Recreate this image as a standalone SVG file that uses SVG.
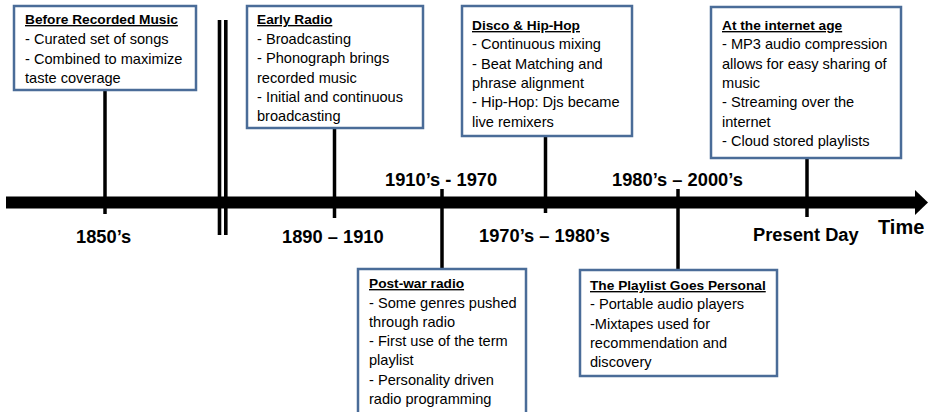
<svg xmlns="http://www.w3.org/2000/svg" width="933" height="412" viewBox="0 0 933 412">
<style>
.box{fill:#fff;stroke:#4A6C98;stroke-width:2.5}
.conn line{stroke:#000;stroke-width:3.5}
.t{font-family:"Liberation Sans",Arial,sans-serif;font-size:14.6px;fill:#000}
.h{font-weight:bold;font-size:13.7px;text-decoration:underline}
.lbl{font-family:"Liberation Sans",Arial,sans-serif;font-size:18.3px;font-weight:bold;fill:#000}
</style>
<rect width="933" height="412" fill="#fff"/>
<g id="timeline">
<rect x="6" y="196.5" width="911" height="12" fill="#000"/>
<polygon points="915,190 928,202.5 915,215" fill="#000"/>
<rect x="217.7" y="20" width="3.6" height="215" fill="#000"/>
<rect x="224" y="20" width="3.6" height="215" fill="#000"/>
</g>
<g class="conn" id="connectors">
<line x1="105" y1="90" x2="105" y2="214"/>
<line x1="334.5" y1="128" x2="334.5" y2="218"/>
<line x1="545.5" y1="136" x2="545.5" y2="213"/>
<line x1="807" y1="158" x2="807" y2="217"/>
<line x1="442" y1="189" x2="442" y2="268"/>
<line x1="678" y1="189" x2="678" y2="270"/>
</g>
<g id="before-recorded-music">
<rect class="box" x="14" y="6" width="182" height="84"/>
<text class="t" x="25" y="24"><tspan class="h">Before Recorded Music</tspan><tspan x="25" y="44">- Curated set of songs</tspan><tspan x="25" y="63.5">- Combined to maximize</tspan><tspan x="25" y="83">taste coverage</tspan></text>
</g>
<g id="early-radio">
<rect class="box" x="247" y="6" width="176" height="122"/>
<text class="t" x="257" y="24"><tspan class="h">Early Radio</tspan><tspan x="257" y="44">- Broadcasting</tspan><tspan x="257" y="63.3">- Phonograph brings</tspan><tspan x="257" y="82.6">recorded music</tspan><tspan x="257" y="102">- Initial and continuous</tspan><tspan x="257" y="121.3">broadcasting</tspan></text>
</g>
<g id="disco-hip-hop">
<rect class="box" x="462" y="6" width="170" height="130"/>
<text class="t" x="472" y="30"><tspan class="h">Disco &amp; Hip-Hop</tspan><tspan x="472" y="49.3">- Continuous mixing</tspan><tspan x="472" y="68.6">- Beat Matching and</tspan><tspan x="472" y="88">phrase alignment</tspan><tspan x="472" y="107.3">- Hip-Hop: Djs became</tspan><tspan x="472" y="126.6">live remixers</tspan></text>
</g>
<g id="internet-age">
<rect class="box" x="711" y="7" width="190" height="151"/>
<text class="t" x="722" y="30"><tspan class="h">At the internet age</tspan><tspan x="722" y="49.3">- MP3 audio compression</tspan><tspan x="722" y="68.6">allows for easy sharing of</tspan><tspan x="722" y="88">music</tspan><tspan x="722" y="107.3">- Streaming over the</tspan><tspan x="722" y="126.6">internet</tspan><tspan x="722" y="146">- Cloud stored playlists</tspan></text>
</g>
<g id="post-war-radio">
<rect class="box" x="358" y="269" width="168" height="150"/>
<text class="t" x="369" y="288"><tspan class="h">Post-war radio</tspan><tspan x="369" y="307.5">- Some genres pushed</tspan><tspan x="369" y="326.8">through radio</tspan><tspan x="369" y="346">- First use of the term</tspan><tspan x="369" y="365.3">playlist</tspan><tspan x="369" y="384.6">- Personality driven</tspan><tspan x="369" y="404">radio programming</tspan></text>
</g>
<g id="playlist-personal">
<rect class="box" x="580" y="270" width="197" height="106"/>
<text class="t" x="590" y="290"><tspan class="h">The Playlist Goes Personal</tspan><tspan x="590" y="309.3">- Portable audio players</tspan><tspan x="590" y="328.6">-Mixtapes used for</tspan><tspan x="590" y="348">recommendation and</tspan><tspan x="590" y="367.3">discovery</tspan></text>
</g>
<g id="labels">
<text class="lbl" x="76" y="243">1850’s</text>
<text class="lbl" x="282" y="243">1890 – 1910</text>
<text class="lbl" x="385" y="186">1910’s - 1970</text>
<text class="lbl" x="612" y="186">1980’s – 2000’s</text>
<text class="lbl" x="479" y="242">1970’s – 1980’s</text>
<text class="lbl" x="753" y="241">Present Day</text>
<text class="lbl" x="878" y="234" style="font-size:20px">Time</text>
</g>
</svg>
